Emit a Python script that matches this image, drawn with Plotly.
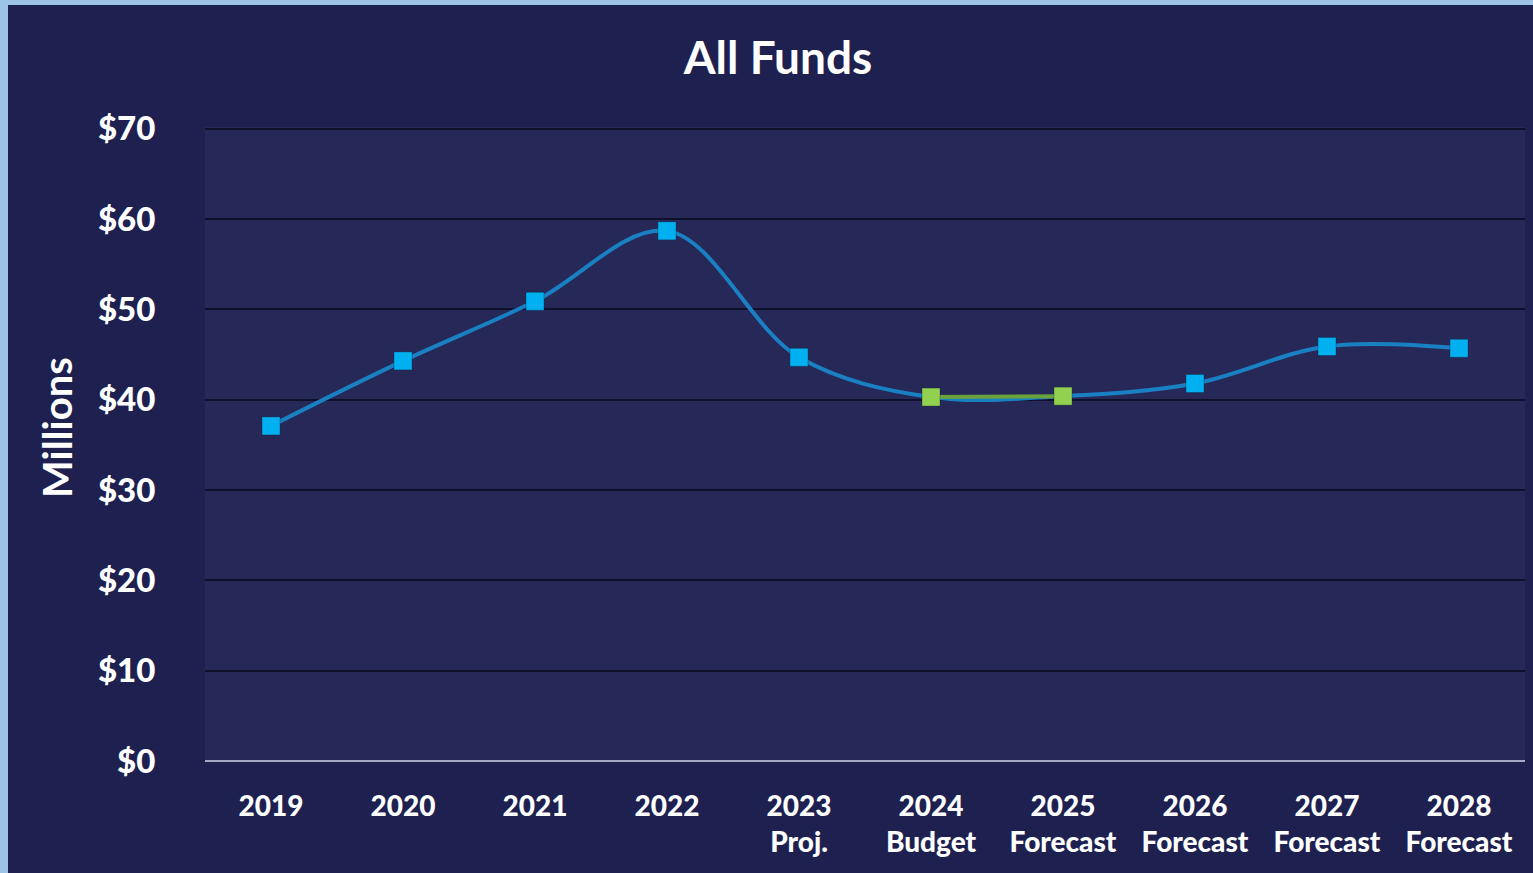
import plotly.graph_objects as go

years = ["2019", "2020", "2021", "2022", "2023", "2024", "2025", "2026", "2027", "2028"]
suffixes = ["", "", "", "", "Proj.", "Budget", "Forecast", "Forecast", "Forecast", "Forecast"]
funds = [37.1, 44.3, 50.9, 58.7, 44.7, 40.3, 40.4, 41.8, 45.9, 45.7]
# 2024 budget and 2025 forecast are highlighted in green
highlight = [False, False, False, False, False, True, True, False, False, False]

labels = [y + ("<br>" + s if s else "") for y, s in zip(years, suffixes)]

W, H = 1533, 873
ml, mr, mt, mb = 205, 8, 127, 112
pw, ph = W - ml - mr, H - mt - mb

navy = "#1e2150"
plot_bg = "#262857"
blue_line = "#1a80c4"
blue_mark = "#00b0f0"
green_line = "#6aa33c"
green_mark = "#92d050"

fig = go.Figure()

fig.add_trace(go.Scatter(
    x=labels, y=funds, mode="lines",
    line=dict(color=blue_line, width=4, shape="spline", smoothing=1.0),
    hoverinfo="skip", showlegend=False,
))

hx = [l for l, h in zip(labels, highlight) if h]
hy = [v for v, h in zip(funds, highlight) if h]
fig.add_trace(go.Scatter(
    x=hx, y=hy, mode="lines",
    line=dict(color=green_line, width=4),
    hoverinfo="skip", showlegend=False,
))

fig.add_trace(go.Scatter(
    x=labels, y=funds, mode="markers",
    marker=dict(
        symbol="square", size=18,
        color=[green_mark if h else blue_mark for h in highlight],
        line=dict(color="rgba(20,40,60,0.35)", width=1),
    ),
    showlegend=False,
))

# light blue frame on the left and top of the panel
fig.add_shape(type="rect", xref="paper", yref="paper",
              x0=-ml / pw, x1=(-ml + 8) / pw, y0=-mb / ph, y1=(ph + mt) / ph,
              fillcolor="#9dc3e6", line_width=0, layer="below")
fig.add_shape(type="rect", xref="paper", yref="paper",
              x0=-ml / pw, x1=(pw + mr) / pw, y0=(ph + mt - 5) / ph, y1=(ph + mt) / ph,
              fillcolor="#9dc3e6", line_width=0, layer="below")

# axis title as annotation so it sits where the original has it
fig.add_annotation(
    text="<b>Millions</b>", textangle=-90, showarrow=False,
    xref="paper", yref="paper",
    x=(57 - ml) / pw, y=(H - 428 - mb) / ph,
    xanchor="center", yanchor="middle",
    font=dict(size=40, color="white", family="Lato"),
)

fig.update_layout(
    width=W, height=H,
    margin=dict(l=ml, r=mr, t=mt, b=mb),
    paper_bgcolor=navy,
    plot_bgcolor=plot_bg,
    font=dict(family="Lato", color="white"),
    title=dict(
        text="<b>All Funds</b>", x=778 / W, xanchor="center",
        y=1 - 58 / H, yanchor="middle",
        font=dict(size=46, color="white"),
    ),
)

fig.update_xaxes(
    type="category", range=[-0.5, 9.5],
    showgrid=False, zeroline=False,
    showline=False,
    ticks="outside", ticklen=20, tickcolor="rgba(0,0,0,0)",
    tickfont=dict(size=28, color="white", family="Lato Black, Lato"),
)

fig.update_yaxes(
    range=[0, 70.2], dtick=10, tickprefix="$",
    showgrid=True, gridcolor="#0f112c", gridwidth=2,
    zeroline=True, zerolinecolor="#a5a8c4", zerolinewidth=2,
    showline=False,
    ticks="outside", ticklen=42, tickcolor="rgba(0,0,0,0)",
    tickfont=dict(size=33, color="white", family="Lato Black, Lato"),
)

fig.write_html(
    "out.html",
    config={"displayModeBar": False},
    post_script="document.body.style.margin='0';document.body.style.overflow='hidden';",
)
